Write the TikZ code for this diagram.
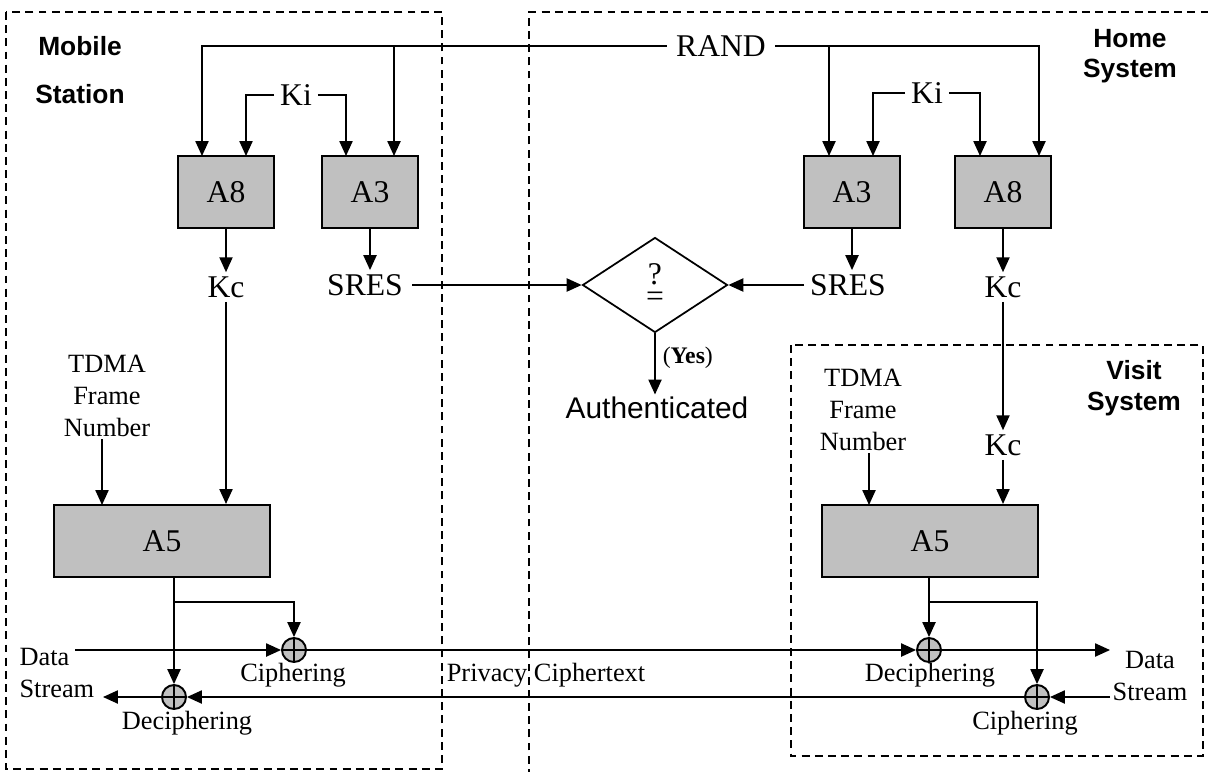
\documentclass[tikz,border=0pt]{standalone}
\usepackage{fontspec}
\setmainfont{Liberation Serif}
\setsansfont{Liberation Sans}
\usetikzlibrary{shapes.geometric,arrows.meta}
\definecolor{boxgray}{RGB}{192,192,192}
\begin{document}
\begin{tikzpicture}[x=0.02cm,y=-0.02cm,line width=0.9pt,
	arr/.style={-{Triangle[length=8.5pt,width=7.5pt]}},
	algo/.style={draw,fill=boxgray,line width=1.2pt,inner sep=0pt,minimum width=1.93cm,minimum height=1.44cm,font=\fontsize{18}{20}\selectfont},
	lbl/.style={inner sep=2pt,font=\fontsize{18}{20}\selectfont},
	small/.style={inner sep=1pt,align=center,font=\fontsize{15}{18}\selectfont},
	sysname/.style={align=center,font=\sffamily\bfseries\fontsize{15}{17}\selectfont},
	xor/.style={circle,draw,fill=boxgray,line width=1.1pt,minimum size=0.48cm,inner sep=0pt,
		path picture={\draw[line width=1.1pt] (path picture bounding box.north) -- (path picture bounding box.south)
			(path picture bounding box.west) -- (path picture bounding box.east);}},
	region/.style={dash pattern=on 4.5pt off 3pt,line width=0.75pt}]

		\useasboundingbox (0,0) rectangle (1212,771);

		\draw[region] (6,12) rectangle (442,769);
		\draw[region] (529,790) -- (529,12) -- (1230,12);
		\draw[region] (791,345) rectangle (1203,756);

		\node[sysname] (msname) at (80,70) {Mobile\\[10pt]Station};
		\node[sysname] (hsname) at (1130,56) {Home\\System};
		\node[sysname] (vsname) at (1134,388) {Visit\\[1pt]System};

		\node[algo] (A8m) at (226,192) {A8};
		\node[algo] (A3m) at (370,192) {A3};
		\node[algo] (A3h) at (852,192) {A3};
		\node[algo] (A8h) at (1003,192) {A8};
		\node[algo,minimum width=4.32cm] (A5m) at (162,541) {A5};
		\node[algo,minimum width=4.32cm] (A5v) at (930,541) {A5};

		\node[lbl,inner xsep=5pt] (rand) at (721,46) {RAND};
		\node[lbl,inner xsep=3pt] (Kim) at (296,95) {Ki};
		\node[lbl,inner xsep=3pt] (Kih) at (927,93) {Ki};
		\node[lbl] (Kcm) at (226,287) {Kc};
		\node[lbl,inner xsep=5pt] (SRESm) at (365,285) {SRES};
		\node[lbl,inner xsep=3pt] (SRESh) at (848,285) {SRES};
		\node[lbl] (Kch) at (1003,287) {Kc};
		\node[lbl] (Kcv) at (1003,445) {Kc};

		\node[diamond,draw,line width=1pt,aspect=1.53,minimum width=2.9cm,minimum height=1.9cm,inner sep=0pt,
			align=center,font=\fontsize{18}{13}\selectfont] (cmp) at (655,285) {?\\=};
		\node[inner sep=1pt,font=\sffamily\fontsize{17}{20}\selectfont] (auth) at (657,408) {Authenticated};

		\node[small] (TDMAm) at (107,396) {TDMA\\Frame\\Number};
		\node[small] (TDMAv) at (863,410) {TDMA\\Frame\\Number};

		\node[xor] (cipm) at (294,650) {};
		\node[xor] (decm) at (174,697) {};
		\node[xor] (dech) at (929,650) {};
		\node[xor] (ciph) at (1037,697) {};

		\node[small] (lcipm) at (293,675) {Ciphering};
		\node[small] (ldecm) at (187,723) {Deciphering};
		\node[small] (ldech) at (930,675) {Deciphering};
		\node[small] (lciph) at (1025,723) {Ciphering};
		\node[small] (priv) at (546,675) {Privacy Ciphertext};
		\node[small,align=left,anchor=west] (dsm) at (17,673) {Data\\Stream};
		\node[small] (dsv) at (1150,676) {Data\\Stream};

		\coordinate (inA8mR) at (202,156);
		\coordinate (inA8mK) at (246,156);
		\coordinate (inA3mK) at (346,156);
		\coordinate (inA3mR) at (394,156);
		\coordinate (inA3hR) at (829,156);
		\coordinate (inA3hK) at (873,156);
		\coordinate (inA8hK) at (980,156);
		\coordinate (inA8hR) at (1039,156);
		\coordinate (inA5mT) at (102,505);
		\coordinate (inA5vT) at (869,505);
		\coordinate (brm) at (174,602);
		\coordinate (brv) at (929,602);
		\coordinate (dinm) at (75,650);
		\coordinate (doutm) at (103,697);
		\coordinate (doutv) at (1110,650);
		\coordinate (dinv) at (1110,697);

		\draw[arr] (rand.west) -| (inA8mR);
		\draw[arr] (rand.west -| inA3mR) -- (inA3mR);
		\draw[arr] (rand.east) -| (inA8hR);
		\draw[arr] (rand.east -| inA3hR) -- (inA3hR);
		\draw[arr] (Kim.west) -| (inA8mK);
		\draw[arr] (Kim.east) -| (inA3mK);
		\draw[arr] (Kih.west) -| (inA3hK);
		\draw[arr] (Kih.east) -| (inA8hK);

		\draw[arr] (A8m.south) -- (Kcm.north);
		\draw[arr] (A3m.south) -- (A3m.south |- SRESm.north);
		\draw[arr] (A3h.south) -- (A3h.south |- SRESh.north);
		\draw[arr] (A8h.south) -- (Kch.north);

		\draw[arr] (SRESm.east) -- (cmp.west);
		\draw[arr] (SRESh.west) -- (cmp.east);
		\draw[arr] (cmp.south) -- node[right,pos=0.4,inner sep=4pt,font=\fontsize{13.5}{16}\selectfont] {(\textbf{Yes})} (cmp.south |- auth.north);

		\draw[arr] (Kcm.south) -- (Kcm.south |- A5m.north);
		\draw[arr] (TDMAm.south -| inA5mT) -- (inA5mT);
		\draw[arr] (Kch.south) -- (Kcv.north);
		\draw[arr] (Kcv.south) -- (Kcv.south |- A5v.north);
		\draw[arr] (TDMAv.south -| inA5vT) -- (inA5vT);

		\draw[arr] (decm |- A5m.south) -- (decm.north);
		\draw[arr] (brm) -| (cipm.north);
		\draw[arr] (dinm) -- (cipm.west);
		\draw[arr] (decm.west) -- (doutm);
		\draw[arr] (cipm.east) -- (dech.west);
		\draw[arr] (ciph.west) -- (decm.east);

		\draw[arr] (dech |- A5v.south) -- (dech.north);
		\draw[arr] (brv) -| (ciph.north);
		\draw[arr] (dech.east) -- (doutv);
		\draw[arr] (dinv) -- (ciph.east);

	\end{tikzpicture}
\end{document}
